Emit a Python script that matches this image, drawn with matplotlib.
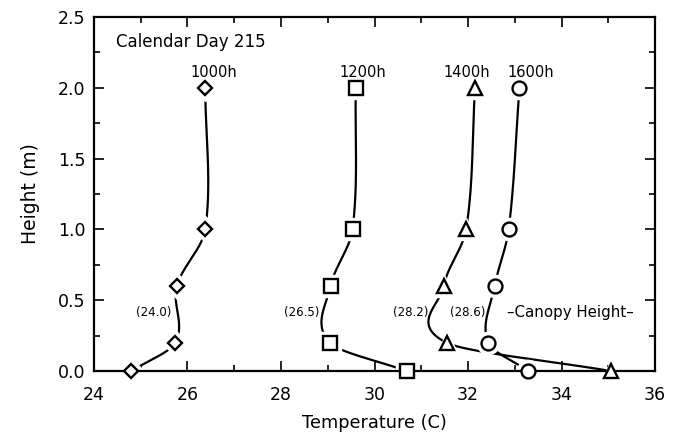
import numpy as np
import matplotlib.pyplot as plt
from matplotlib.ticker import MultipleLocator

# measurement heights (m) and air temperature profiles (C)
heights = [0.0, 0.2, 0.6, 1.0, 2.0]
temp_1000 = [24.80, 25.74, 25.77, 26.38, 26.38]
temp_1200 = [30.69, 29.04, 29.06, 29.53, 29.60]
temp_1400 = [35.06, 31.54, 31.48, 31.96, 32.15]
temp_1600 = [33.29, 32.43, 32.57, 32.87, 33.10]

series_names = ['1000h', '1200h', '1400h', '1600h']
canopy_temps = ['(24.0)', '(26.5)', '(28.2)', '(28.6)']

markers = ['D', 's', '^', 'o']
marker_sizes = [7.5, 10, 10, 10]
name_x = [26.57, 29.74, 31.98, 33.35]
canopy_x = [25.66, 28.82, 31.15, 32.37]


def hermite_profile(h, t, hs):
    """Smooth T(h) through the points: cubic Hermite with Catmull-Rom slopes."""
    h = np.asarray(h, float)
    t = np.asarray(t, float)
    n = len(h)
    m = np.empty(n)
    m[0] = (t[1] - t[0]) / (h[1] - h[0])
    m[-1] = (t[-1] - t[-2]) / (h[-1] - h[-2])
    m[1:-1] = (t[2:] - t[:-2]) / (h[2:] - h[:-2])
    idx = np.clip(np.searchsorted(h, hs) - 1, 0, n - 2)
    d = h[idx + 1] - h[idx]
    s = (hs - h[idx]) / d
    h00 = 2 * s ** 3 - 3 * s ** 2 + 1
    h10 = s ** 3 - 2 * s ** 2 + s
    h01 = -2 * s ** 3 + 3 * s ** 2
    h11 = s ** 3 - s ** 2
    return h00 * t[idx] + h10 * d * m[idx] + h01 * t[idx + 1] + h11 * d * m[idx + 1]


fig = plt.figure(figsize=(6.76, 4.34), dpi=100)
ax = fig.add_axes([0.139, 0.145, 0.83, 0.816])

profiles = [temp_1000, temp_1200, temp_1400, temp_1600]
hs = np.linspace(0, 2, 400)
for i, temps in enumerate(profiles):
    ts = hermite_profile(heights, temps, hs)
    ax.plot(ts, hs, color='black', lw=1.6, zorder=2)
    # white ring so the curve stops short of each symbol
    ax.plot(temps, heights, ls='none', marker=markers[i],
            ms=marker_sizes[i] + 6, mfc='white', mec='white',
            zorder=2.2, clip_on=False)
    ax.plot(temps, heights, ls='none', marker=markers[i],
            ms=marker_sizes[i], mfc='white', mec='black', mew=1.7,
            zorder=3, clip_on=False)
    ax.text(name_x[i], 2.11, series_names[i], ha='center', va='center',
            fontsize=10.5)
    ax.text(canopy_x[i], 0.41, canopy_temps[i], ha='right', va='center',
            fontsize=8.5)

ax.text(34.18, 0.41, '–Canopy Height–', ha='center', va='center',
        fontsize=10.8)
ax.text(24.47, 2.32, 'Calendar Day 215', ha='left', va='center',
        fontsize=12)

ax.set_xlim(24, 36)
ax.set_ylim(0, 2.5)
ax.xaxis.set_major_locator(MultipleLocator(2))
ax.xaxis.set_minor_locator(MultipleLocator(1))
ax.yaxis.set_major_locator(MultipleLocator(0.5))
ax.yaxis.set_minor_locator(MultipleLocator(0.25))
ax.yaxis.set_major_formatter(plt.FormatStrFormatter('%.1f'))
ax.tick_params(which='both', direction='in', top=True, right=True,
               labelsize=12.5, width=1.2)
ax.tick_params(which='major', length=7, pad=6)
ax.tick_params(axis='x', which='major', pad=11)
ax.tick_params(which='minor', length=4)
for s in ax.spines.values():
    s.set_linewidth(1.6)

ax.set_xlabel('Temperature (C)', fontsize=12.8, labelpad=7)
ax.set_ylabel('Height (m)', fontsize=13.5, labelpad=13)

fig.savefig('out.png', dpi=100)
